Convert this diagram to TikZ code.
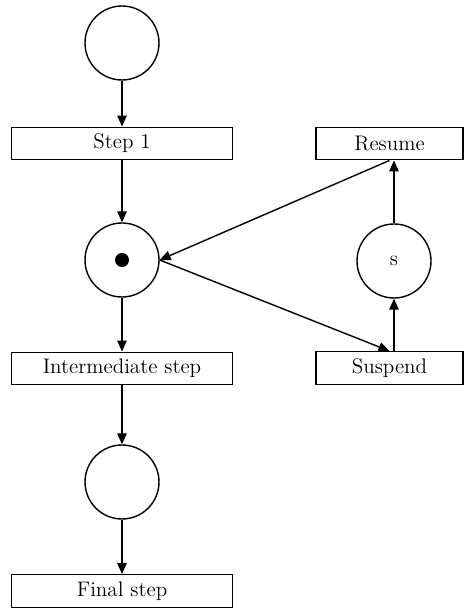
\documentclass[tikz,border=0pt]{standalone}
\usepackage{tikz}
\usetikzlibrary{positioning, arrows.meta}
\tikzset{
	placenode/.style={
			circle,
			draw=black,
			line width=0.8pt,
			fill=white,
			minimum size=14.8mm,
			inner sep=0pt
		},
	transnode/.style={
			shape=rectangle,
			draw=black,
			line width=0.8pt,
			minimum height=6.5mm,
			inner sep=0pt
		},
	tokendot/.style={
			circle,
			fill=black,
			minimum size=2.8mm,
			inner sep=0pt
		},
	flow/.style={
			line width=0.8pt,
			-{Triangle[length=2.2mm,width=1.9mm]}
		}
}

\begin{document}
\begin{tikzpicture}[font=\fontsize{12}{14}\selectfont]

  \useasboundingbox (0,0) rectangle (9.28,12.18);

  \node[placenode] (p1) at (2.44,11.32) {};
  \node[placenode] (p2) at (2.44,6.98) {};
  \node[placenode] (p3) at (2.44,2.54) {};
  \node[placenode] (ps) at (7.88,6.96) {s};
  \node[tokendot] (tok) at (p2) {};

  \node[transnode, minimum width=44.2mm] (t1) at (2.44,9.31) {Step 1};
  \node[transnode, minimum width=44.2mm] (t2) at (2.44,4.81) {Intermediate step};
  \node[transnode, minimum width=44.2mm] (t3) at (2.44,0.36) {Final step};
  \node[transnode, minimum width=29.4mm] (tr) at (7.79,9.31) {Resume};
  \node[transnode, minimum width=29.4mm] (ts) at (7.79,4.82) {Suspend};

  \draw[flow] (p1) -- (t1);
  \draw[flow] (t1) -- (p2);
  \draw[flow] (p2) -- (t2);
  \draw[flow] (t2) -- (p3);
  \draw[flow] (p3) -- (t3);

  \draw[flow] (p2.east) -- (ts.north);
  \draw[flow] (ps |- ts.north) -- (ps);
  \draw[flow] (ps) -- (ps |- tr.south);
  \draw[flow] (tr.south) -- (p2.east);

\end{tikzpicture}
\end{document}
